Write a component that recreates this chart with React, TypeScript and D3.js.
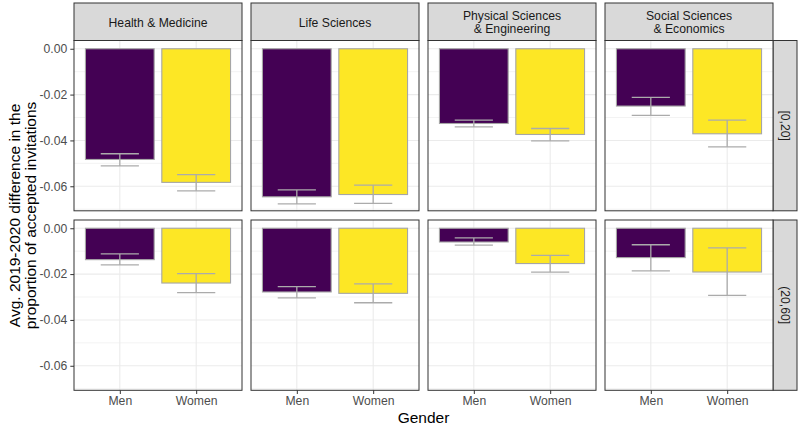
import React, { useEffect, useRef } from 'react';
import * as d3 from 'd3';

// facets and groups
const fields = ['Health & Medicine', 'Life Sciences', 'Physical Sciences\n& Engineering', 'Social Sciences\n& Economics'];
const bands = ['[0,20]', '(20,60]'];
const genders = ['Men', 'Women'];

// mean difference, per band, per field, [Men, Women]
const meanLow = [[-0.0483, -0.0583], [-0.0646, -0.0636], [-0.0326, -0.0374], [-0.0250, -0.0371]];
const meanHigh = [[-0.0137, -0.0239], [-0.0278, -0.0284], [-0.0060, -0.0154], [-0.0128, -0.0191]];
// error bar limits [upper, lower]
const errLow = [
    [[-0.0458, -0.0511], [-0.0549, -0.0620]],
    [[-0.0616, -0.0677], [-0.0595, -0.0675]],
    [[-0.0311, -0.0341], [-0.0348, -0.0402]],
    [[-0.0212, -0.0291], [-0.0311, -0.0428]],
];
const errHigh = [
    [[-0.0112, -0.0160], [-0.0198, -0.0281]],
    [[-0.0255, -0.0304], [-0.0243, -0.0325]],
    [[-0.0042, -0.0074], [-0.0118, -0.0191]],
    [[-0.0072, -0.0186], [-0.0086, -0.0293]],
];
const yTicks = [0, -0.02, -0.04, -0.06];
const yMinor = [-0.01, -0.03, -0.05, -0.07];
const fills = ['#440154', '#FDE725'];

const App = () => {
    const ref = useRef<SVGSVGElement>(null);

    useEffect(() => {
        const svg = d3.select(ref.current);
        svg.selectAll('*').remove();

        const font = '"Liberation Sans", Arial, sans-serif';
        const left = 74;
        const pw = 168;
        const gap = 9;
        const ph = 170.3;
        const rowTop = [40.5, 220];
        const stripTop = 3;
        const stripW = 24;

        const x = d3.scaleLinear().domain([0.4, 2.6]).range([0, pw]);
        const y = d3.scaleLinear().domain([-0.0707, 0.0036]).range([ph, 0]);

        const means = [meanLow, meanHigh];
        const errs = [errLow, errHigh];

        // top strips
        fields.forEach((f, i) => {
            const g = svg.append('g').attr('transform', `translate(${left + i * (pw + gap)}, ${stripTop})`);
            g.append('rect').attr('width', pw).attr('height', rowTop[0] - stripTop)
                .attr('fill', '#D9D9D9').attr('stroke', '#333333').attr('stroke-width', 1);
            const lines = f.split('\n');
            const t = g.append('text').attr('x', pw / 2).attr('text-anchor', 'middle')
                .attr('font-family', font).attr('font-size', 12.2).attr('fill', '#1A1A1A');
            lines.forEach((l, k) => {
                t.append('tspan').attr('x', pw / 2)
                    .attr('y', lines.length === 1 ? 23.5 : 16.5 + k * 13.5)
                    .text(l);
            });
        });

        bands.forEach((b, r) => {
            // right strip
            const sx = left + 4 * pw + 3 * gap;
            const sg = svg.append('g').attr('transform', `translate(${sx}, ${rowTop[r]})`);
            sg.append('rect').attr('width', stripW).attr('height', ph)
                .attr('fill', '#D9D9D9').attr('stroke', '#333333').attr('stroke-width', 1);
            sg.append('text').attr('transform', `translate(${stripW / 2}, ${ph / 2}) rotate(90)`)
                .attr('text-anchor', 'middle').attr('dy', '0.35em')
                .attr('font-family', font).attr('font-size', 12.2).attr('fill', '#1A1A1A')
                .text(b);

            fields.forEach((f, i) => {
                const g = svg.append('g').attr('transform', `translate(${left + i * (pw + gap)}, ${rowTop[r]})`);
                g.append('rect').attr('width', pw).attr('height', ph).attr('fill', 'white');

                g.selectAll('.minor').data(yMinor).enter().append('line')
                    .attr('x1', 0).attr('x2', pw)
                    .attr('y1', d => y(d)).attr('y2', d => y(d))
                    .attr('stroke', '#EBEBEB').attr('stroke-width', 0.6);
                g.selectAll('.major').data(yTicks).enter().append('line')
                    .attr('x1', 0).attr('x2', pw)
                    .attr('y1', d => y(d)).attr('y2', d => y(d))
                    .attr('stroke', '#EBEBEB').attr('stroke-width', 1.1);
                g.selectAll('.vmajor').data([1, 2]).enter().append('line')
                    .attr('x1', d => x(d)).attr('x2', d => x(d))
                    .attr('y1', 0).attr('y2', ph)
                    .attr('stroke', '#EBEBEB').attr('stroke-width', 1.1);

                const m = means[r][i];
                const e = errs[r][i];
                genders.forEach((gd, k) => {
                    const cx = x(k + 1);
                    g.append('rect')
                        .attr('x', cx - (x(1.45) - x(1)))
                        .attr('width', x(1.9) - x(1))
                        .attr('y', y(0))
                        .attr('height', y(m[k]) - y(0))
                        .attr('fill', fills[k]).attr('stroke', '#A6A6A6').attr('stroke-width', 1.1);
                    const hw = x(1.25) - x(1);
                    const [hi, lo] = e[k];
                    const eg = g.append('g').attr('stroke', '#ABABAB').attr('stroke-width', 1.3).attr('fill', 'none');
                    eg.append('line').attr('x1', cx - hw).attr('x2', cx + hw).attr('y1', y(hi)).attr('y2', y(hi));
                    eg.append('line').attr('x1', cx - hw).attr('x2', cx + hw).attr('y1', y(lo)).attr('y2', y(lo));
                    eg.append('line').attr('x1', cx).attr('x2', cx).attr('y1', y(hi)).attr('y2', y(lo));
                });

                g.append('rect').attr('width', pw).attr('height', ph)
                    .attr('fill', 'none').attr('stroke', '#333333').attr('stroke-width', 1);

                if (i === 0) {
                    const ax = g.append('g').call(
                        d3.axisLeft(y).tickValues(yTicks).tickFormat(d3.format('.2f')).tickSize(3.7).tickPadding(3)
                    );
                    ax.select('.domain').remove();
                    ax.selectAll('line').attr('stroke', '#333333');
                    ax.selectAll('text').attr('font-family', font).attr('font-size', 12.2).attr('fill', '#4D4D4D')
                        .text(d => d3.format('.2f')(d as number).replace('−', '-'));
                }
                if (r === 1) {
                    const ax = g.append('g').attr('transform', `translate(0, ${ph})`).call(
                        d3.axisBottom(x).tickValues([1, 2]).tickFormat(d => genders[(d as number) - 1]).tickSize(3.7).tickPadding(2.5)
                    );
                    ax.select('.domain').remove();
                    ax.selectAll('line').attr('stroke', '#333333');
                    ax.selectAll('text').attr('font-family', font).attr('font-size', 12.2).attr('fill', '#4D4D4D');
                }
            });
        });

        // axis titles
        const midX = (left + left + 4 * pw + 3 * gap) / 2;
        svg.append('text').attr('x', midX).attr('y', 423)
            .attr('text-anchor', 'middle').attr('font-family', font).attr('font-size', 15.5).attr('fill', 'black')
            .text('Gender');

        const midY = (rowTop[0] + rowTop[1] + ph) / 2;
        const yt = svg.append('text').attr('transform', `translate(0, ${midY}) rotate(-90)`)
            .attr('text-anchor', 'middle').attr('font-family', font).attr('font-size', 15.5).attr('fill', 'black');
        yt.append('tspan').attr('x', 0).attr('y', 20).text('Avg. 2019-2020 difference in the');
        yt.append('tspan').attr('x', 0).attr('y', 35.5).text('proportion of accepted invitations');
    }, []);

    return (
        <svg ref={ref} width={800} height={428} style={{ position: 'absolute', left: 0, top: 0, background: 'white' }} />
    );
};

export default App;
